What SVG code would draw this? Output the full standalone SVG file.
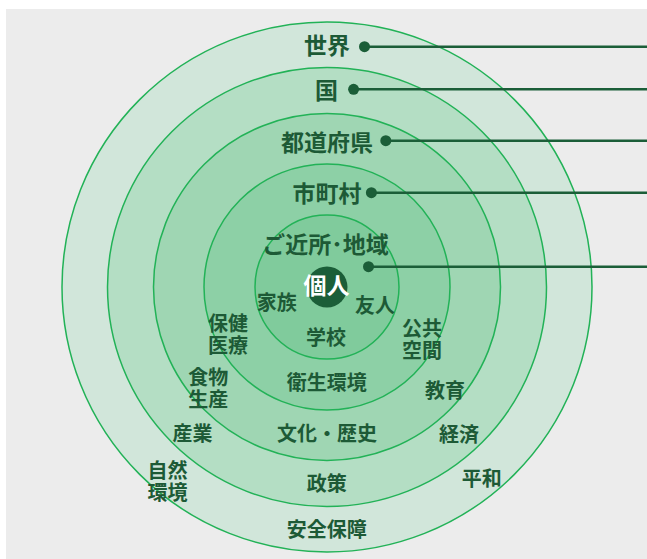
<svg xmlns="http://www.w3.org/2000/svg" width="647" height="559" viewBox="0 0 647 559">
<style>
.ring{stroke:#22b257;stroke-width:1.5}
.lbl{font-family:"Noto Sans CJK JP","Noto Sans CJK SC",sans-serif;font-weight:bold;fill:#1d5a36;text-anchor:middle;dominant-baseline:central}
.big{font-size:23px}
.sm{font-size:20px}
.lead{stroke:#1b5e38;stroke-width:2.6;fill:none}
.dot{fill:#1b5e38}
</style>
<rect x="6" y="9" width="641" height="550" fill="#ececec"/>
<g id="rings">
<circle class="ring" cx="327" cy="287" r="265" fill="#d1e6da"/>
<circle class="ring" cx="327" cy="287" r="219.5" fill="#b4dec4"/>
<circle class="ring" cx="327" cy="287" r="173.5" fill="#9fd6b3"/>
<circle class="ring" cx="327" cy="287" r="123" fill="#8dd0a6"/>
<circle class="ring" cx="327" cy="287" r="72" fill="#80cb9c"/>
<circle cx="327" cy="287" r="20.5" fill="#1b5e38"/>
</g>
<g id="connectors">
<line class="lead" x1="364.5" y1="46.7" x2="647" y2="46.7"/><circle class="dot" cx="364.5" cy="46.7" r="5.5"/>
<line class="lead" x1="353.6" y1="89.3" x2="647" y2="89.3"/><circle class="dot" cx="353.6" cy="89.3" r="5.5"/>
<line class="lead" x1="385.8" y1="140.7" x2="647" y2="140.7"/><circle class="dot" cx="385.8" cy="140.7" r="5.5"/>
<line class="lead" x1="371.4" y1="192.7" x2="647" y2="192.7"/><circle class="dot" cx="371.4" cy="192.7" r="5.5"/>
<line class="lead" x1="368.5" y1="266.7" x2="647" y2="266.7"/><circle class="dot" cx="368.5" cy="266.7" r="5.5"/>
</g>
<g id="sekai"><text class="lbl big" x="327" y="43.5">世界</text></g>
<g id="kuni"><text class="lbl big" x="326.6" y="89">国</text></g>
<g id="todofuken"><text class="lbl big" x="327" y="140.5">都道府県</text></g>
<g id="shichoson"><text class="lbl big" x="327" y="192">市町村</text></g>
<g id="gokinjo"><text class="lbl big" x="325.4" y="243">ご近所･地域</text></g>
<g id="kojin"><text class="lbl big" x="326.5" y="284" style="fill:#ffffff">個人</text></g>
<g id="kazoku"><text class="lbl sm" x="276.7" y="301">家族</text></g>
<g id="yujin"><text class="lbl sm" x="375" y="304">友人</text></g>
<g id="hoken"><text class="lbl sm" x="228" y="322">保健<tspan x="228" dy="22">医療</tspan></text></g>
<g id="gakko"><text class="lbl sm" x="326" y="336">学校</text></g>
<g id="kokyo"><text class="lbl sm" x="422" y="327">公共<tspan x="422" dy="22">空間</tspan></text></g>
<g id="shokumotsu"><text class="lbl sm" x="208.3" y="376">食物<tspan x="208.3" dy="22">生産</tspan></text></g>
<g id="eisei"><text class="lbl sm" x="326.8" y="381">衛生環境</text></g>
<g id="kyoiku"><text class="lbl sm" x="445" y="389.5">教育</text></g>
<g id="sangyo"><text class="lbl sm" x="192.5" y="432.4">産業</text></g>
<g id="bunka"><text class="lbl sm" x="327" y="432">文化・歴史</text></g>
<g id="keizai"><text class="lbl sm" x="459" y="433">経済</text></g>
<g id="shizen"><text class="lbl sm" x="167.5" y="469">自然<tspan x="167.5" dy="21.5">環境</tspan></text></g>
<g id="seisaku"><text class="lbl sm" x="326.7" y="482">政策</text></g>
<g id="heiwa"><text class="lbl sm" x="481.7" y="477.4">平和</text></g>
<g id="anzen"><text class="lbl sm" x="326.8" y="528">安全保障</text></g>
</svg>
